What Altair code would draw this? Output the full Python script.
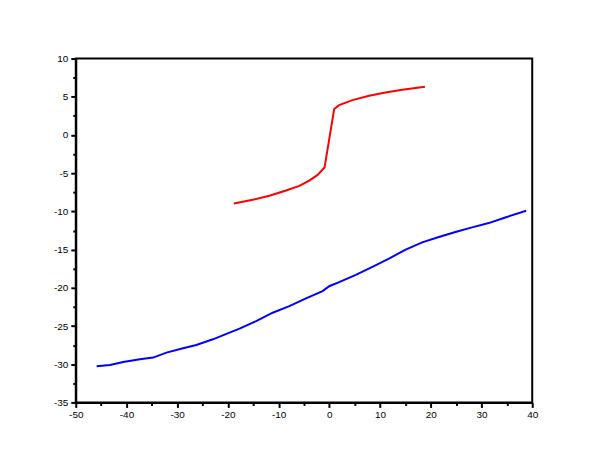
import altair as alt
import pandas as pd

# Red curve
red_x = [-18.83, -15.1, -11.82, -8.54, -5.92, -3.96, -2.32, -0.95, 0.95, 1.94, 4.55, 7.83, 11.1, 14.38, 18.84]
red_y = [-8.96, -8.48, -7.96, -7.27, -6.66, -5.96, -5.22, -4.26, 3.39, 3.91, 4.56, 5.13, 5.56, 5.91, 6.30]

# Blue curve
blue_x = [-45.88, -43.26, -40.64, -37.36, -34.75, -32.12, -28.85, -26.23, -22.96, -19.68, -17.71,
          -14.44, -11.17, -7.89, -4.61, -1.34, -0.03, 1.94, 5.21, 8.49, 11.76, 15.04, 18.31,
          21.59, 24.86, 28.14, 31.41, 34.69, 38.81]
blue_y = [-30.26, -30.09, -29.70, -29.35, -29.13, -28.48, -27.92, -27.48, -26.74, -25.87, -25.35,
          -24.35, -23.26, -22.39, -21.39, -20.44, -19.79, -19.26, -18.31, -17.26, -16.18, -15.0, -14.05,
          -13.35, -12.70, -12.09, -11.53, -10.79, -9.92]

x_major = [-50, -40, -30, -20, -10, 0, 10, 20, 30, 40]
x_minor = [-45, -35, -25, -15, -5, 5, 15, 25, 35]
y_major = [-35, -30, -25, -20, -15, -10, -5, 0, 5, 10]
y_minor = [-32.5, -27.5, -22.5, -17.5, -12.5, -7.5, -2.5, 2.5, 7.5]

rows = []
for i, (a, b) in enumerate(zip(red_x, red_y)):
    rows.append({"x": a, "y": b, "s": "red", "i": i})
for i, (a, b) in enumerate(zip(blue_x, blue_y)):
    rows.append({"x": a, "y": b, "s": "blue", "i": i})
df = pd.DataFrame(rows)

xs = alt.Scale(domain=[-50, 40], nice=False, zero=False)
ys = alt.Scale(domain=[-35, 10], nice=False, zero=False)

common = dict(grid=False, domainColor="black", domainWidth=2, tickColor="black",
              labelFont="Liberation Sans", labelFontSize=10, labelColor="black", title=None,
              labelFlush=False, labelOverlap=False, labelExpr="'' + datum.value")

main = alt.Chart(df).mark_line(strokeWidth=2).encode(
    x=alt.X("x:Q", scale=xs, axis=alt.Axis(values=x_major, tickSize=5, tickWidth=2,
                                             labelPadding=2, orient="bottom", **common)),
    y=alt.Y("y:Q", scale=ys, axis=alt.Axis(values=y_major, tickSize=5, tickWidth=2,
                                             labelPadding=3, orient="left", **common)),
    color=alt.Color("s:N", scale=alt.Scale(domain=["red", "blue"], range=["#FF0000", "#0000FF"]),
                    legend=None),
    detail="s:N",
    order="i:Q",
)

minor = alt.Chart(df).mark_point(opacity=0).encode(
    x=alt.X("x:Q", scale=xs, axis=alt.Axis(values=x_minor, tickSize=3, tickWidth=2, labels=False,
                                             domain=False, grid=False, tickColor="black",
                                             orient="bottom", title=None)),
    y=alt.Y("y:Q", scale=ys, axis=alt.Axis(values=y_minor, tickSize=3, tickWidth=2, labels=False,
                                             domain=False, grid=False, tickColor="black",
                                             orient="left", title=None)),
)

chart = alt.layer(main, minor).resolve_axis(x="independent", y="independent").properties(
    width=458, height=345,
    autosize=alt.AutoSizeParams(type="none"),
    padding={"left": 68, "top": 50, "right": 70, "bottom": 50},
    background="white",
).configure_view(stroke="black", strokeWidth=2)

chart.save("out.html", embed_options={"renderer": "svg", "actions": False})
